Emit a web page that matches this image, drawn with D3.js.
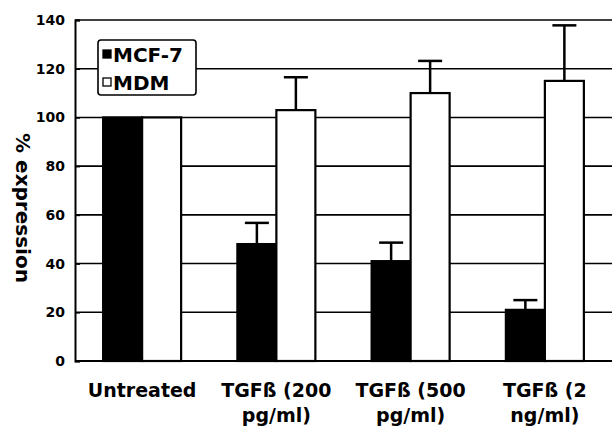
<!DOCTYPE html>
<html>
<head>
<meta charset="utf-8">
<script src="https://cdn.jsdelivr.net/npm/d3@7"></script>
<style>
  body { margin: 0; background: #fff; }
  svg { display: block; font-family: "DejaVu Sans", sans-serif; font-weight: bold; }
</style>
</head>
<body>
<div id="chart"></div>
<script>
// data
var categories = ["Untreated", "TGFß (200 pg/ml)", "TGFß (500 pg/ml)", "TGFß (2 ng/ml)"];
var categoryLines = [["Untreated"], ["TGFß (200", "pg/ml)"], ["TGFß (500", "pg/ml)"], ["TGFß (2", "ng/ml)"]];
var series = ["MCF-7", "MDM"];
var mcf7 = [100, 48, 41, 21];
var mcf7Err = [0, 8.7, 7.6, 4];
var mdm = [100, 103, 110, 115];
var mdmErr = [0, 13.5, 13.2, 22.8];
var yTicks = [0, 20, 40, 60, 80, 100, 120, 140];

var width = 612, height = 428;
var margin = {top: 20, right: 0, bottom: 67, left: 75};

var svg = d3.select("#chart").append("svg")
  .attr("width", width).attr("height", height);

var x0 = d3.scaleBand().domain(categories)
  .range([margin.left, width - margin.right]).padding(0);
var barW = 39;
var x1 = d3.scaleBand().domain(series)
  .range([x0.bandwidth() / 2 - barW, x0.bandwidth() / 2 + barW]).padding(0);
var y = d3.scaleLinear().domain([0, 140]).range([height - margin.bottom, margin.top]);

// gridlines
svg.append("g").selectAll("line").data(yTicks.filter(function(d) { return d > 0; }))
  .join("line")
  .attr("x1", margin.left).attr("x2", width)
  .attr("y1", function(d) { return y(d); }).attr("y2", function(d) { return y(d); })
  .attr("stroke", "#000").attr("stroke-width", 1.6);

// y axis
var yAxis = svg.append("g")
  .attr("transform", "translate(" + margin.left + ",0)")
  .call(d3.axisLeft(y).tickValues(yTicks).tickSize(-5).tickPadding(10));
yAxis.select(".domain").attr("stroke-width", 2);
yAxis.selectAll(".tick line").attr("stroke-width", 1.6);
yAxis.selectAll("text").attr("font-size", 14).attr("font-family", "DejaVu Sans").attr("font-weight", "bold").attr("fill", "#000");

var rows = categories.map(function(c, i) {
  return {cat: c, vals: [
    {s: "MCF-7", v: mcf7[i], e: mcf7Err[i]},
    {s: "MDM", v: mdm[i], e: mdmErr[i]}
  ]};
});

var groups = svg.append("g").selectAll("g").data(rows).join("g")
  .attr("transform", function(d) { return "translate(" + x0(d.cat) + ",0)"; });

// error bars (behind bars)
groups.selectAll(".err").data(function(d) { return d.vals.filter(function(v) { return v.e > 0; }); })
  .join("g").attr("class", "err")
  .each(function(d) {
    var g = d3.select(this);
    var cx = x1(d.s) + x1.bandwidth() / 2;
    g.append("line").attr("x1", cx).attr("x2", cx)
      .attr("y1", y(d.v)).attr("y2", y(d.v + d.e))
      .attr("stroke", "#000").attr("stroke-width", 2.5);
    g.append("line").attr("x1", cx - 12).attr("x2", cx + 12)
      .attr("y1", y(d.v + d.e)).attr("y2", y(d.v + d.e))
      .attr("stroke", "#000").attr("stroke-width", 2.5);
  });

groups.selectAll("rect").data(function(d) { return d.vals; })
  .join("rect")
  .attr("x", function(d) { return x1(d.s); })
  .attr("width", x1.bandwidth())
  .attr("y", function(d) { return y(d.v); })
  .attr("height", function(d) { return y(0) - y(d.v); })
  .attr("fill", function(d) { return d.s === "MCF-7" ? "#000" : "#fff"; })
  .attr("stroke", "#000").attr("stroke-width", 2.2);

// bottom axis line
svg.append("line")
  .attr("x1", margin.left).attr("x2", width)
  .attr("y1", y(0)).attr("y2", y(0))
  .attr("stroke", "#000").attr("stroke-width", 2.2);

// category labels
categories.forEach(function(c, i) {
  var t = svg.append("text")
    .attr("x", x0(c) + x0.bandwidth() / 2)
    .attr("y", 397)
    .attr("text-anchor", "middle")
    .attr("font-size", 19);
  categoryLines[i].forEach(function(line, j) {
    t.append("tspan").attr("x", x0(c) + x0.bandwidth() / 2)
      .attr("dy", j === 0 ? 0 : 24.5).text(line);
  });
});

// y label
svg.append("text")
  .attr("transform", "translate(23,208) rotate(90)")
  .attr("text-anchor", "middle")
  .attr("dominant-baseline", "central")
  .attr("font-size", 20)
  .text("% expression");

// legend
var legend = svg.append("g");
legend.append("rect")
  .attr("x", 98).attr("y", 40).attr("width", 98).attr("height", 55)
  .attr("rx", 3)
  .attr("fill", "#fff").attr("stroke", "#000").attr("stroke-width", 1.6);
series.forEach(function(s, i) {
  var ly = 54 + i * 28;
  legend.append("rect")
    .attr("x", 103).attr("y", ly - 4).attr("width", 8).attr("height", 8)
    .attr("fill", s === "MCF-7" ? "#000" : "#fff")
    .attr("stroke", "#000").attr("stroke-width", 1.3);
  legend.append("text")
    .attr("x", 113).attr("y", ly + 7.5)
    .attr("font-size", 20)
    .text(s);
});
</script>
</body>
</html>
